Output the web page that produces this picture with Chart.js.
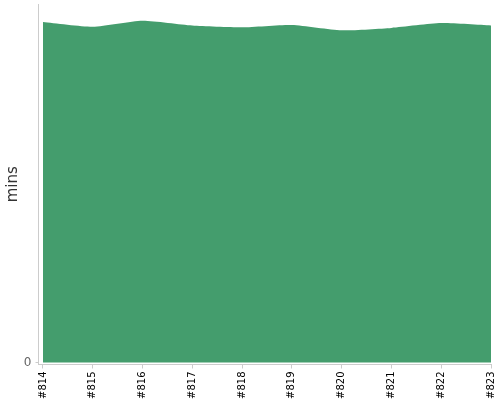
<!DOCTYPE html>
<html>
<head>
<meta charset="utf-8">
<script src="https://cdn.jsdelivr.net/npm/chart.js@4"></script>
<style>
    html, body { margin: 0; padding: 0; background: #fff; }
    #wrap { width: 500px; height: 400px; position: relative; }
</style>
</head>
<body>
<div id="wrap"><canvas id="buildChart"></canvas></div>
<script>
// Build numbers on the x axis and build duration (mins) per build
const builds = [814, 815, 816, 817, 818, 819, 820, 821, 822, 823];
const mins = [57.0, 56.2, 57.2, 56.4, 56.1, 56.5, 55.6, 56.0, 56.8, 56.4];
const yTicks = [0];

const areaColor = '#449d6d';
const axisColor = '#cccccc';

Chart.defaults.font.family = "'DejaVu Sans', sans-serif";

const ctx = document.getElementById('buildChart').getContext('2d');

new Chart(ctx, {
    type: 'line',
    data: {
        datasets: [{
            label: 'mins',
            data: builds.map((b, i) => ({ x: b, y: mins[i] })),
            fill: 'origin',
            backgroundColor: areaColor,
            borderColor: areaColor,
            borderWidth: 0,
            pointRadius: 0,
            tension: 0.2
        }]
    },
    options: {
        responsive: true,
        maintainAspectRatio: false,
        animation: false,
        layout: { padding: { top: 4, right: 9, bottom: 0, left: 0 } },
        plugins: {
            legend: { display: false },
            tooltip: { enabled: false }
        },
        scales: {
            x: {
                type: 'linear',
                min: 813.91,
                max: 823,
                afterBuildTicks: scale => {
                    scale.ticks = builds.map(v => ({ value: v }));
                },
                afterFit: scale => {
                    // keep the plot edge flush with the layout padding
                    scale.height = 35.5;
                    scale.paddingLeft = 0;
                    scale.paddingRight = 0;
                },
                ticks: {
                    minRotation: 90,
                    maxRotation: 90,
                    padding: 3,
                    color: '#000',
                    font: { size: 10 },
                    callback: v => '#' + v
                },
                grid: { drawOnChartArea: false, tickLength: 4, color: axisColor },
                border: { color: axisColor }
            },
            y: {
                min: -0.335,
                max: 60,
                afterBuildTicks: scale => {
                    scale.ticks = yTicks.map(v => ({ value: v }));
                },
                afterFit: scale => {
                    scale.width = 38.5;
                    scale.paddingTop = 0;
                    scale.paddingBottom = 0;
                },
                ticks: {
                    padding: 4,
                    color: '#666',
                    font: { size: 12 }
                },
                grid: { drawOnChartArea: false, tickLength: 3, color: axisColor },
                border: { color: axisColor },
                title: {
                    display: true,
                    text: 'mins',
                    color: '#333',
                    font: { size: 15 },
                    padding: { top: 4, bottom: 4 }
                }
            }
        }
    }
});
</script>
</body>
</html>
